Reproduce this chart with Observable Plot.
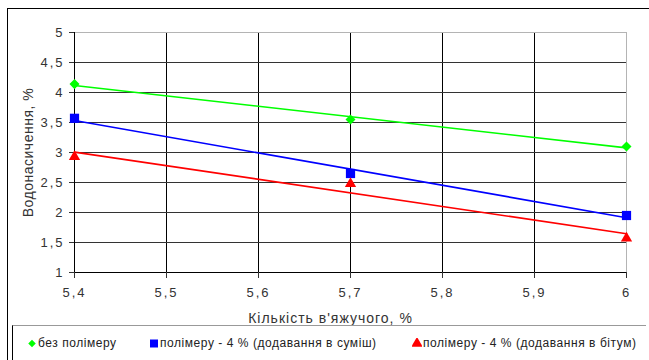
<!DOCTYPE html>
<html>
<head>
<meta charset="utf-8">
<script src="https://cdn.jsdelivr.net/npm/d3@7"></script>
<script src="https://cdn.jsdelivr.net/npm/@observablehq/plot@0.6"></script>
<style>
  html, body { margin: 0; padding: 0; background: #fff; }
  body { width: 649px; height: 360px; position: relative; overflow: hidden; font-family: "Liberation Sans", Arial, sans-serif; }
  #frame { position: absolute; left: 7px; top: 8px; width: 700px; height: 400px; border-left: 1.5px solid #000; border-top: 1.5px solid #000; }
  #chart { position: absolute; left: 0; top: 0; }
  #chart g[aria-label$="tick label"] text { letter-spacing: 2px; }
  #chart g[aria-label="x-axis label"] text, #chart g[aria-label="y-axis label"] text { font-size: 14px; letter-spacing: 1px; }
  #chart g[aria-label="y-axis label"] text { letter-spacing: 0.5px; }
  #legend { position: absolute; left: 12px; top: 325px; width: 633px; height: 60px; background: #fff; border-left: 1.5px solid #000; border-top: 1.5px solid #999; }
  .item { position: absolute; top: 10px; font-size: 12px; letter-spacing: 0.55px; color: #222; display: flex; align-items: center; white-space: nowrap; }
  .item svg { margin-right: 1px; }
</style>
</head>
<body>
<div id="frame"></div>
<div id="chart"></div>
<div id="legend"></div>
<script>
// Binder content (%) and water saturation (%) for three mixes
const binder = [5.4, 5.7, 6.0];
const noPolymer = [4.14, 3.55, 3.1];
const polymerMix = [3.57, 2.65, 1.95];
const polymerBitumen = [2.93, 2.48, 1.57];

const seriesNames = [
  "без полімеру",
  "полімеру - 4 % (додавання в суміш)",
  "полімеру - 4 % (додавання в бітум)"
];
const seriesColors = ["#00ff00", "#0000ff", "#ff0000"];

const xTicks = [5.4, 5.5, 5.6, 5.7, 5.8, 5.9, 6.0];
const yTicks = [1, 1.5, 2, 2.5, 3, 3.5, 4, 4.5, 5];

const comma = d => String(+d.toFixed(2)).replace(".", ",");

// Square rotated by 45°
const diamond = {
  draw(context, size) {
    const h = Math.sqrt(size) * 0.63;
    context.moveTo(0, -h);
    context.lineTo(h, 0);
    context.lineTo(0, h);
    context.lineTo(-h, 0);
    context.closePath();
  }
};
const symbols = [diamond, "square", "triangle"];
const radii = [4.5, 5.2, 4.2];

const seriesValues = [noPolymer, polymerMix, polymerBitumen];
const rows = seriesValues.map((vals, i) =>
  binder.map((x, j) => ({ x, y: vals[j], series: seriesNames[i] }))
);

const marks = [
  Plot.gridX(xTicks.filter(d => d > 5.4 && d < 6), { stroke: "#000", strokeOpacity: 1 }),
  Plot.gridY(yTicks.filter(d => d > 1 && d < 5), { stroke: "#333", strokeOpacity: 1 }),
  Plot.frame({ stroke: "#b4b4b4" }),
  Plot.ruleX([5.4], { stroke: "#000" }),
  Plot.ruleY([1], { stroke: "#000" }),
  Plot.axisX({ ticks: xTicks, tickFormat: comma, tickSize: 6, tickPadding: 9, fontSize: 13,
    label: "Кількість в'яжучого, %", labelAnchor: "center", labelArrow: "none", labelOffset: 50 }),
  Plot.axisY({ ticks: yTicks, tickFormat: comma, tickSize: 5, tickPadding: 5, fontSize: 13,
    label: "Водонасичення, %", labelAnchor: "center", labelArrow: "none", labelOffset: 51 })
];
rows.forEach((data, i) => {
  marks.push(Plot.linearRegressionY(data, { x: "x", y: "y", stroke: seriesColors[i], strokeWidth: 1.6, ci: 0 }));
});
rows.forEach((data, i) => {
  marks.push(Plot.dot(data, { x: "x", y: "y", fill: seriesColors[i], stroke: "none", symbol: symbols[i], r: radii[i] }));
});

const chart = Plot.plot({
  width: 649,
  height: 330,
  marginLeft: 74,
  marginRight: 23,
  marginTop: 32,
  marginBottom: 58,
  style: { fontFamily: "Liberation Sans, Arial, sans-serif", fontSize: "13px", color: "#333", background: "transparent" },
  x: { domain: [5.4, 6.0] },
  y: { domain: [1, 5] },
  marks
});
// Nudge the x-axis title a little to the left
const xLabel = chart.querySelector('g[aria-label="x-axis label"]');
if (xLabel) {
  const t = xLabel.getAttribute("transform") || "";
  xLabel.setAttribute("transform", (t + " translate(-20,0)").trim());
}
document.getElementById("chart").appendChild(chart);

// Legend row below the plot
const legend = document.getElementById("legend");
const legendX = [14, 136, 399];
seriesNames.forEach((name, i) => {
  const item = document.createElement("div");
  item.className = "item";
  item.style.left = legendX[i] + "px";
  const svg = d3.create("svg").attr("width", 10).attr("height", 10);
  const sym = i === 0 ? diamond : i === 1 ? d3.symbolSquare : d3.symbolTriangle;
  const size = i === 0 ? 36 : i === 1 ? 64 : 56;
  svg.append("path")
    .attr("transform", "translate(5,5.5)")
    .attr("d", d3.symbol(sym, size)())
    .attr("fill", seriesColors[i]);
  item.appendChild(svg.node());
  const span = document.createElement("span");
  span.textContent = name;
  item.appendChild(span);
  legend.appendChild(item);
});
</script>
</body>
</html>
